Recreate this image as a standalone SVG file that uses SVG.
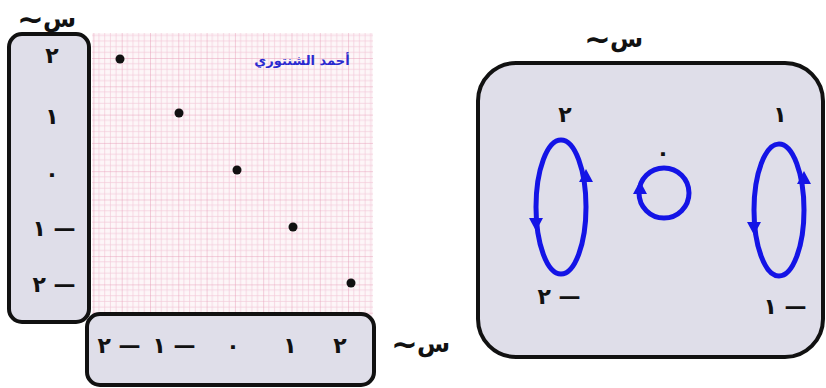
<svg xmlns="http://www.w3.org/2000/svg" width="826" height="388" viewBox="0 0 826 388">
<style>
.box{fill:#dfdee9;stroke:#111;stroke-width:4}
.num{font-family:"DejaVu Sans",sans-serif;font-weight:bold;font-size:22px;fill:#111;text-anchor:middle}
.sym{font-family:"DejaVu Sans",sans-serif;font-weight:bold;font-size:24px;fill:#111}
.tl{font-size:32px}
.loop{fill:none;stroke:#1414e6;stroke-width:5}
.head{fill:#1414e6}
.pt{fill:#111}
</style>
<defs>
<pattern id="grid" patternUnits="userSpaceOnUse" x="93.4" y="29.7" width="28.3" height="28.3">
<rect width="28.3" height="28.3" fill="#fdf6f8"/>
<path d="M5.66 0V28.3M11.32 0V28.3M16.98 0V28.3M22.64 0V28.3M0 5.66H28.3M0 11.32H28.3M0 16.98H28.3M0 22.64H28.3" stroke="#f4cad9" stroke-width="0.7"/>
<path d="M0 0V28.3M0 0H28.3" stroke="#e8a0ba" stroke-width="1"/>
</pattern>
</defs>
<rect id="paper" x="92" y="33" width="281" height="286" fill="url(#grid)"/>
<g id="name"><text x="302" y="65" font-family="DejaVu Sans,sans-serif" font-weight="bold" font-size="13" fill="#2a2ad0" text-anchor="middle" direction="rtl">أحمد الشنتوري</text></g>
<g id="points">
<circle class="pt" cx="120" cy="59" r="4.5"/>
<circle class="pt" cx="179" cy="113" r="4.5"/>
<circle class="pt" cx="237" cy="170" r="4.5"/>
<circle class="pt" cx="293" cy="227" r="4.5"/>
<circle class="pt" cx="351" cy="283" r="4.5"/>
</g>
<g id="left-set">
<rect class="box" x="9" y="34" width="80" height="288" rx="13"/>
<text class="num" x="52" y="63">٢</text>
<text class="num" x="52" y="124">١</text>
<text class="num" x="52" y="181">٠</text>
<text class="num" x="54" y="236" direction="rtl">— ١</text>
<text class="num" x="54" y="292" direction="rtl">— ٢</text>
<text class="sym" y="27"><tspan class="tl" x="17" y="30">~</tspan><tspan x="43" y="27">س</tspan></text>
</g>
<g id="bottom-set">
<rect class="box" x="87" y="314" width="287" height="71" rx="13"/>
<text class="num" x="119" y="353" direction="rtl">— ٢</text>
<text class="num" x="174" y="353" direction="rtl">— ١</text>
<text class="num" x="233" y="353">٠</text>
<text class="num" x="290" y="353">١</text>
<text class="num" x="340" y="353">٢</text>
<text class="sym" y="352"><tspan class="tl" x="391" y="355">~</tspan><tspan x="417" y="352">س</tspan></text>
</g>
<g id="right-set">
<rect class="box" x="478" y="63" width="345" height="294" rx="38"/>
<text class="sym" y="47"><tspan class="tl" x="584" y="50">~</tspan><tspan x="610" y="47">س</tspan></text>
<text class="num" x="565" y="122">٢</text>
<text class="num" x="780" y="122">١</text>
<text class="num" x="663" y="160">٠</text>
<text class="num" x="559" y="304" direction="rtl">— ٢</text>
<text class="num" x="785" y="314" direction="rtl">— ١</text>
</g>
<g id="connectors">
<ellipse class="loop" cx="561" cy="207" rx="25" ry="67"/>
<polygon class="head" points="586,169 579,182 593,182"/>
<polygon class="head" points="536,231 529,218 543,218"/>
<circle class="loop" cx="664" cy="193" r="25"/>
<polygon class="head" points="640,181 633,194 647,194"/>
<ellipse class="loop" cx="779" cy="210" rx="25" ry="66"/>
<polygon class="head" points="804,171 797,184 811,184"/>
<polygon class="head" points="754,235 747,222 761,222"/>
</g>
</svg>
